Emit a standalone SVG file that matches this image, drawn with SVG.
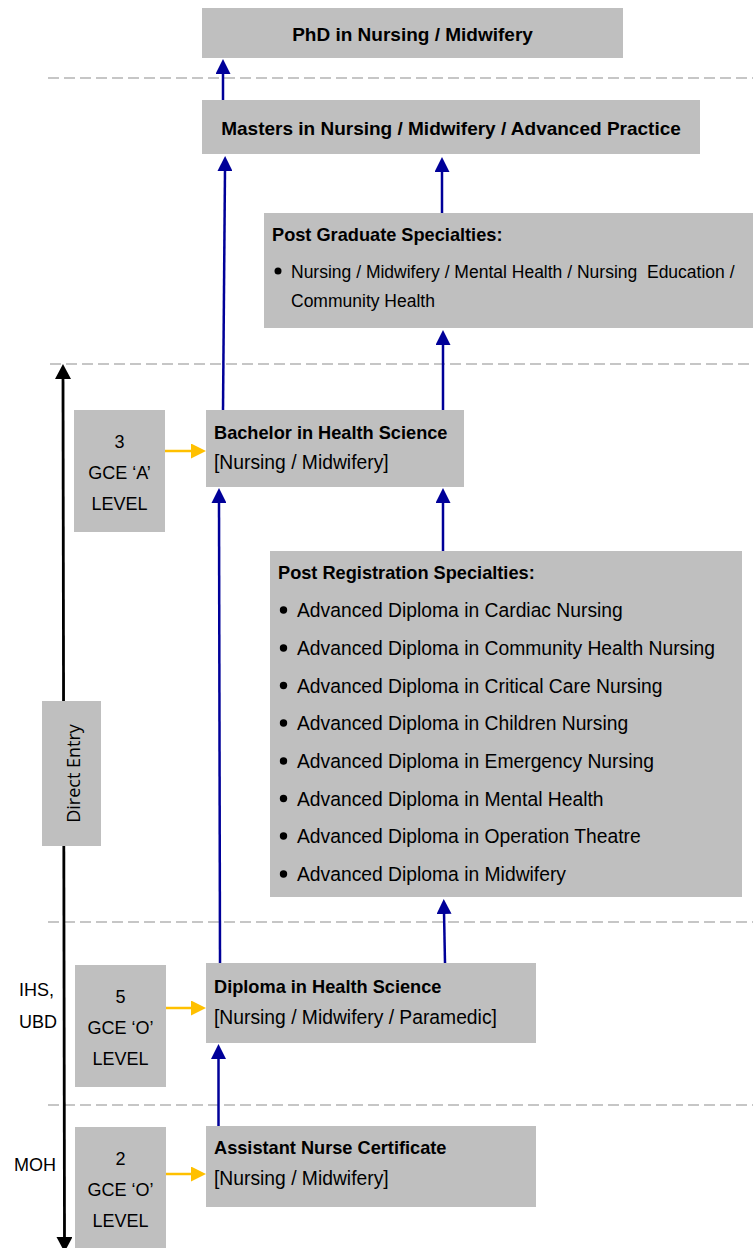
<svg xmlns="http://www.w3.org/2000/svg" width="753" height="1248" viewBox="0 0 753 1248">
<defs>
<style>
.box{fill:#BFBFBF;}
.t{font-family:"Liberation Sans",Arial,sans-serif;fill:#000;}
.b{font-weight:bold;font-size:18.2px;}
.r{font-size:19.3px;}
.s{font-size:17.5px;}
.g{font-size:18px;text-anchor:middle;}
.side{font-size:18px;}
.de{font-family:"Open Sans","Liberation Sans",sans-serif;font-size:18px;text-anchor:middle;fill:#000;}
.dash{stroke:#C6C6C6;stroke-width:2;stroke-dasharray:11 5;fill:none;}
.blue{stroke:#000099;stroke-width:2.5;fill:none;marker-end:url(#ab);}
.yel{stroke:#FFC000;stroke-width:2.5;fill:none;marker-end:url(#ay);}
.blk{stroke:#000;stroke-width:2.8;fill:none;marker-start:url(#ak);marker-end:url(#ak);}
</style>
<marker id="ab" viewBox="0 0 15 15" refX="2" refY="7.5" markerWidth="15" markerHeight="15" markerUnits="userSpaceOnUse" orient="auto"><path d="M0,0 L15,7.5 L0,15 z" fill="#000099"/></marker>
<marker id="ay" viewBox="0 0 15 15" refX="2" refY="7.5" markerWidth="15" markerHeight="15" markerUnits="userSpaceOnUse" orient="auto"><path d="M0,0 L15,7.5 L0,15 z" fill="#FFC000"/></marker>
<marker id="ak" viewBox="0 0 15 16" refX="2" refY="8" markerWidth="15" markerHeight="16" markerUnits="userSpaceOnUse" orient="auto-start-reverse"><path d="M0,0 L15,8 L0,16 z" fill="#000"/></marker>
</defs>

<g id="separators">
<line class="dash" x1="48" y1="78" x2="753" y2="78"/>
<line class="dash" x1="50" y1="364" x2="753" y2="364"/>
<line class="dash" x1="48" y1="922" x2="753" y2="922"/>
<line class="dash" x1="48" y1="1105" x2="753" y2="1105"/>
</g>

<g id="connectors">
<line class="blue" x1="223" y1="100" x2="223" y2="72"/>
<line class="blue" x1="223" y1="410" x2="225" y2="169"/>
<line class="blue" x1="442" y1="213" x2="442" y2="170"/>
<line class="blue" x1="443" y1="410" x2="443" y2="343"/>
<line class="blue" x1="220" y1="963" x2="219" y2="501"/>
<line class="blue" x1="443" y1="551" x2="443" y2="501"/>
<line class="blue" x1="445" y1="963" x2="444" y2="912"/>
<line class="blue" x1="218.5" y1="1126" x2="218.5" y2="1057"/>
<line class="yel" x1="163" y1="451" x2="193" y2="451"/>
<line class="yel" x1="165" y1="1008" x2="193" y2="1008"/>
<line class="yel" x1="163" y1="1174" x2="193" y2="1174"/>
<line class="blk" x1="63" y1="377" x2="64.5" y2="1239"/>
</g>

<g id="phd">
<rect class="box" x="202" y="8" width="421" height="50"/>
<text class="t b" x="412.5" y="41" text-anchor="middle" style="font-size:19px">PhD in Nursing / Midwifery</text>
</g>

<g id="masters">
<rect class="box" x="202" y="100" width="498" height="54"/>
<text class="t b" x="451" y="135" text-anchor="middle" style="font-size:19px">Masters in Nursing / Midwifery / Advanced Practice</text>
</g>

<g id="postgraduate">
<rect class="box" x="264" y="213" width="489" height="115"/>
<text class="t b" x="272" y="241">Post Graduate Specialties:</text>
<circle cx="278" cy="271" r="3.5" fill="#000"/>
<text class="t s" x="291" y="278" xml:space="preserve">Nursing / Midwifery / Mental Health / Nursing  Education /</text>
<text class="t s" x="291" y="307">Community Health</text>
</g>

<g id="bachelor">
<rect class="box" x="206" y="410" width="258" height="77"/>
<text class="t b" x="214" y="439">Bachelor in Health Science</text>
<text class="t r" x="214" y="469">[Nursing / Midwifery]</text>
</g>

<g id="gce-a">
<rect class="box" x="74" y="410" width="91" height="122"/>
<text class="t g" x="119.5" y="448">3</text>
<text class="t g" x="119.5" y="479">GCE ‘A’</text>
<text class="t g" x="119.5" y="510">LEVEL</text>
</g>

<g id="postregistration">
<rect class="box" x="270" y="551" width="472" height="346"/>
<text class="t b" x="278" y="579">Post Registration Specialties:</text>
<g fill="#000">
<circle cx="283.5" cy="610" r="3.7"/>
<circle cx="283.5" cy="648" r="3.7"/>
<circle cx="283.5" cy="685.5" r="3.7"/>
<circle cx="283.5" cy="723" r="3.7"/>
<circle cx="283.5" cy="761" r="3.7"/>
<circle cx="283.5" cy="798.5" r="3.7"/>
<circle cx="283.5" cy="836" r="3.7"/>
<circle cx="283.5" cy="874" r="3.7"/>
</g>
<text class="t r" x="297" y="617">Advanced Diploma in Cardiac Nursing</text>
<text class="t r" x="297" y="655">Advanced Diploma in Community Health Nursing</text>
<text class="t r" x="297" y="692.5">Advanced Diploma in Critical Care Nursing</text>
<text class="t r" x="297" y="730">Advanced Diploma in Children Nursing</text>
<text class="t r" x="297" y="768">Advanced Diploma in Emergency Nursing</text>
<text class="t r" x="297" y="805.5">Advanced Diploma in Mental Health</text>
<text class="t r" x="297" y="843">Advanced Diploma in Operation Theatre</text>
<text class="t r" x="297" y="881">Advanced Diploma in Midwifery</text>
</g>

<g id="direct-entry">
<rect class="box" x="42" y="701" width="59" height="145"/>
<text class="de" transform="translate(80,773.5) rotate(-90)">Direct Entry</text>
</g>

<g id="diploma">
<rect class="box" x="206" y="963" width="330" height="80"/>
<text class="t b" x="214" y="993">Diploma in Health Science</text>
<text class="t r" x="214" y="1024">[Nursing / Midwifery / Paramedic]</text>
</g>

<g id="gce-o-5">
<rect class="box" x="75" y="965" width="91" height="122"/>
<text class="t g" x="120.5" y="1003">5</text>
<text class="t g" x="120.5" y="1034">GCE ‘O’</text>
<text class="t g" x="120.5" y="1065">LEVEL</text>
</g>

<g id="ihs-ubd">
<text class="t side" x="19" y="996">IHS,</text>
<text class="t side" x="19" y="1028">UBD</text>
</g>

<g id="assistant-nurse">
<rect class="box" x="206" y="1126" width="330" height="81"/>
<text class="t b" x="214" y="1154">Assistant Nurse Certificate</text>
<text class="t r" x="214" y="1185">[Nursing / Midwifery]</text>
</g>

<g id="gce-o-2">
<rect class="box" x="75" y="1127" width="91" height="125"/>
<text class="t g" x="120.5" y="1165">2</text>
<text class="t g" x="120.5" y="1196">GCE ‘O’</text>
<text class="t g" x="120.5" y="1227">LEVEL</text>
</g>

<g id="moh">
<text class="t side" x="14" y="1171">MOH</text>
</g>
</svg>
